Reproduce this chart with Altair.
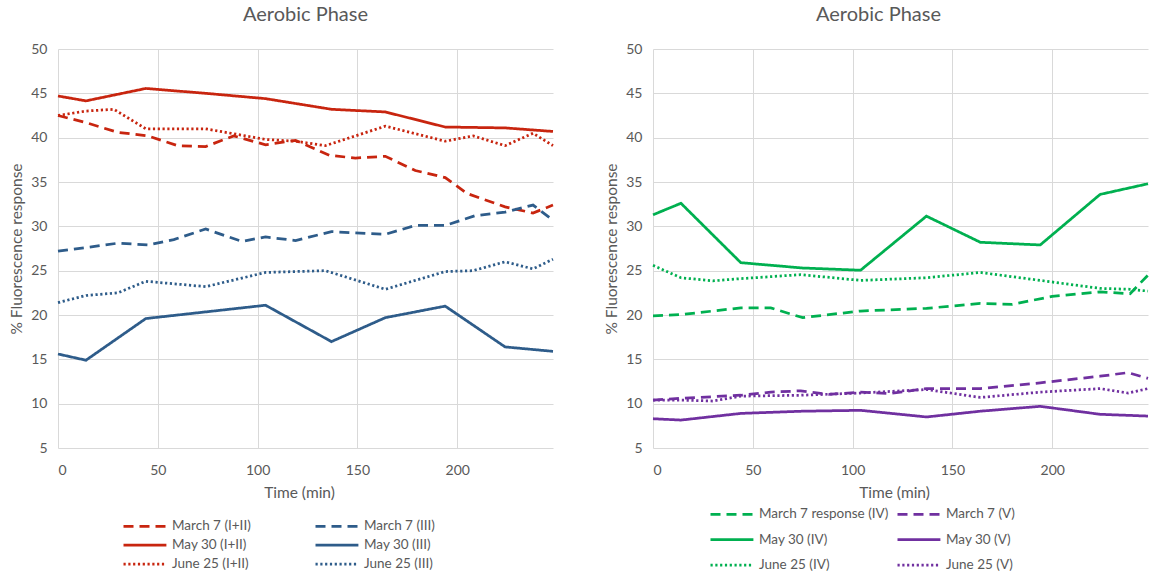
import altair as alt
import pandas as pd

# ---------------- data ----------------
# Left panel (I+II in red, III in blue)
m7_12_t = [0, 14, 30, 45, 60, 74, 88, 104, 119, 136, 149, 164, 179, 194, 205, 224, 238, 248]
m7_12_v = [42.5, 41.7, 40.6, 40.2, 39.1, 39.0, 40.2, 39.2, 39.7, 38.0, 37.7, 37.9, 36.3, 35.5, 33.7, 32.2, 31.5, 32.4]
m30_12_t = [0, 14, 44, 74, 104, 137, 164, 194, 224, 248]
m30_12_v = [44.7, 44.15, 45.55, 45.0, 44.4, 43.2, 42.9, 41.2, 41.1, 40.7]
j25_12_t = [0, 14, 28, 44, 74, 104, 119, 134, 164, 194, 208, 224, 238, 248]
j25_12_v = [42.5, 43.0, 43.2, 41.0, 41.0, 39.8, 39.6, 39.1, 41.3, 39.6, 40.2, 39.1, 40.5, 39.1]
m7_3_t = [0, 14, 30, 45, 58, 74, 92, 104, 119, 137, 164, 179, 194, 209, 224, 238, 248]
m7_3_v = [27.2, 27.6, 28.1, 27.9, 28.5, 29.7, 28.3, 28.8, 28.4, 29.4, 29.1, 30.1, 30.1, 31.2, 31.6, 32.4, 30.7]
m30_3_t = [0, 14, 44, 74, 104, 137, 164, 194, 224, 248]
m30_3_v = [15.6, 14.9, 19.6, 20.35, 21.1, 17.0, 19.7, 21.0, 16.4, 15.9]
j25_3_t = [0, 14, 30, 44, 74, 104, 134, 164, 194, 208, 224, 238, 248]
j25_3_v = [21.4, 22.2, 22.5, 23.8, 23.2, 24.8, 25.0, 22.9, 24.9, 25.0, 26.0, 25.2, 26.3]

# Right panel (IV in green, V in purple)
m7_4_t = [0, 14, 44, 59, 75, 104, 137, 164, 180, 200, 224, 239, 248]
m7_4_v = [19.9, 20.05, 20.8, 20.8, 19.7, 20.45, 20.75, 21.3, 21.2, 22.1, 22.6, 22.4, 24.5]
m30_4_t = [0, 14, 44, 75, 104, 137, 164, 194, 224, 248]
m30_4_v = [31.3, 32.6, 25.9, 25.3, 25.05, 31.15, 28.2, 27.9, 33.6, 34.8]
j25_4_t = [0, 14, 30, 44, 74, 104, 137, 164, 194, 224, 239, 248]
j25_4_v = [25.6, 24.2, 23.85, 24.1, 24.55, 23.9, 24.2, 24.8, 23.9, 23.0, 22.9, 22.7]
m7_5_t = [0, 14, 44, 59, 74, 88, 104, 119, 137, 164, 194, 224, 238, 248]
m7_5_v = [10.4, 10.6, 10.95, 11.3, 11.45, 11.05, 11.3, 11.15, 11.7, 11.7, 12.35, 13.1, 13.5, 12.85]
m30_5_t = [0, 14, 44, 75, 104, 137, 164, 194, 224, 248]
m30_5_v = [8.3, 8.15, 8.9, 9.15, 9.25, 8.5, 9.15, 9.7, 8.8, 8.6]
j25_5_t = [0, 14, 30, 44, 74, 104, 137, 164, 194, 224, 238, 248]
j25_5_v = [10.4, 10.4, 10.3, 10.85, 10.95, 11.2, 11.6, 10.7, 11.3, 11.7, 11.2, 11.7]

# legend order is column by column: first column, then second column
left_names = ["March 7 (I+II)", "May 30 (I+II)", "June 25 (I+II)", "March 7 (III)", "May 30 (III)", "June 25 (III)"]
right_names = ["March 7 response (IV)", "May 30 (IV)", "June 25 (IV)", "March 7 (V)", "May 30 (V)", "June 25 (V)"]

RED, BLUE, GREEN, PURPLE = "#C8250F", "#2E5C8A", "#00B050", "#7030A0"
DASH, SOLID, DOT = [10, 6], [1, 0], [2.2, 2.6]

left_colors = [RED, RED, RED, BLUE, BLUE, BLUE]
right_colors = [GREEN, GREEN, GREEN, PURPLE, PURPLE, PURPLE]
dashes = [DASH, SOLID, DOT, DASH, SOLID, DOT]

left_series = [(m7_12_t, m7_12_v), (m30_12_t, m30_12_v), (j25_12_t, j25_12_v),
               (m7_3_t, m7_3_v), (m30_3_t, m30_3_v), (j25_3_t, j25_3_v)]
right_series = [(m7_4_t, m7_4_v), (m30_4_t, m30_4_v), (j25_4_t, j25_4_v),
                (m7_5_t, m7_5_v), (m30_5_t, m30_5_v), (j25_5_t, j25_5_v)]


def frame(names, series):
    rows = []
    for name, (ts, vs) in zip(names, series):
        for t, v in zip(ts, vs):
            rows.append({"t": t, "v": v, "series": name})
    return pd.DataFrame(rows)


FONT = "Lato"
GRAY = "#595959"
LEG_PATH = "M-1,0H5.6"


def panel(names, series, colors, lx, ly, colpad, rowpad, tdx):
    df = frame(names, series)
    leg = dict(
        orient="none", legendX=lx, legendY=ly, columns=2, title=None,
        symbolType=LEG_PATH, symbolSize=169, symbolStrokeWidth=2.75,
        labelOffset=34, labelFont=FONT, labelFontSize=13.5, labelColor=GRAY,
        columnPadding=colpad, rowPadding=rowpad, padding=0,
    )
    return alt.Chart(df).mark_line(strokeWidth=2.75).encode(
        x=alt.X("t:Q", scale=alt.Scale(domain=[0, 248], nice=False, zero=False),
                axis=alt.Axis(values=[0, 50, 100, 150, 200], title="Time (min)",
                              labelPadding=15, titlePadding=8, titleX=241)),
        y=alt.Y("v:Q", scale=alt.Scale(domain=[5, 50], nice=False, zero=False),
                axis=alt.Axis(values=list(range(5, 55, 5)), title="% Fluorescence response",
                              labelPadding=11, titlePadding=6)),
        color=alt.Color("series:N", scale=alt.Scale(domain=names, range=colors),
                        legend=alt.Legend(**leg)),
        strokeDash=alt.StrokeDash("series:N", scale=alt.Scale(domain=names, range=dashes),
                                  legend=alt.Legend(**leg)),
        detail="series:N",
    ).properties(
        width=495, height=399,
        title=alt.TitleParams("Aerobic Phase", font=FONT, fontSize=20, fontWeight="normal",
                              color=GRAY, anchor="middle", frame="group", dx=tdx, offset=17),
    )


left = panel(left_names, left_series, left_colors, 64, 469, 59, 4, 0)
right = panel(right_names, right_series, right_colors, 56, 457, 3, 10.5, -22)

chart = alt.hconcat(left, right, spacing=45).resolve_scale(
    color="independent", strokeDash="independent"
).properties(
    padding={"left": 9, "top": 5, "right": 0, "bottom": 0}
).configure_view(stroke=None).configure_axis(
    grid=True, gridColor="#d9d9d9", gridWidth=1, domain=False, ticks=False, tickSize=0,
    labelFont=FONT, labelFontSize=14, labelColor=GRAY,
    titleFont=FONT, titleFontSize=15.5, titleFontWeight="normal", titleColor=GRAY,
)

chart.save("out.html", embed_options={"renderer": "svg", "actions": False})
